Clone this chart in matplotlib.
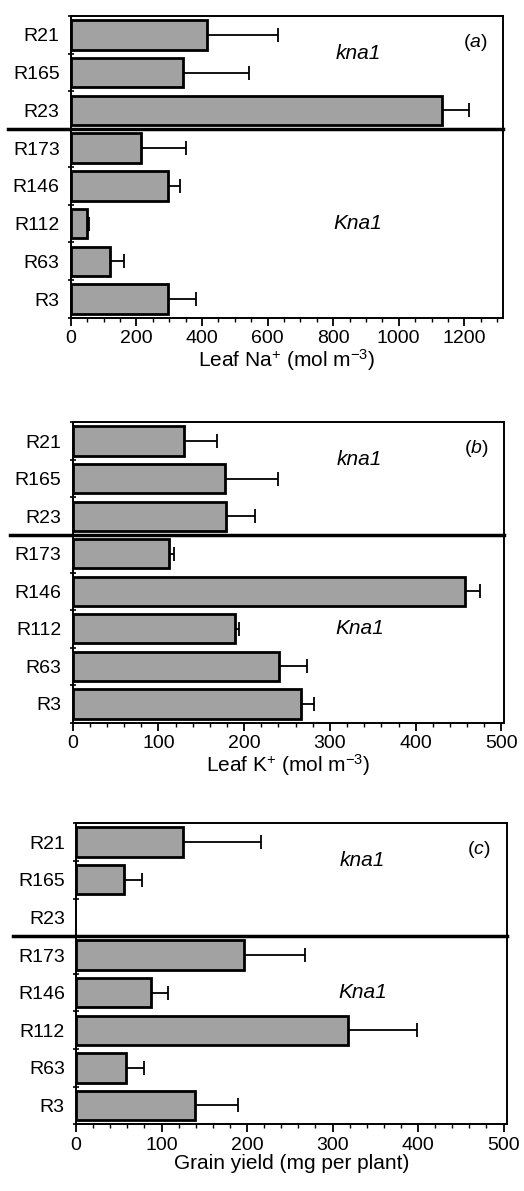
import numpy as np
import matplotlib
matplotlib.use('Agg')
import matplotlib.pyplot as plt
import matplotlib.transforms as mtrans
from matplotlib.ticker import MultipleLocator, FixedLocator

plt.rcParams['font.family'] = ['Liberation Sans', 'DejaVu Sans']
plt.rcParams['mathtext.fontset'] = 'custom'
plt.rcParams['mathtext.rm'] = 'Liberation Sans'
plt.rcParams['mathtext.it'] = 'Liberation Sans:italic'

# Data ------------------------------------------------------------------------
lines = ['R21', 'R165', 'R23', 'R173', 'R146', 'R112', 'R63', 'R3']

na_mean = [416, 343, 1131, 213, 296, 51, 120, 298]
na_se = [215, 200, 84, 138, 37, 4, 43, 83]

k_mean = [130, 178, 179, 112, 457, 189, 241, 266]
k_se = [38, 62, 34, 6, 18, 5, 32, 16]

yield_mean = [125, 56, 0, 197, 88, 318, 58, 139]  # R23 gave no grain
yield_se = [91, 21, 0, 71, 20, 81, 21, 51]

# Panel settings --------------------------------------------------------------
panels = [
    dict(mean=na_mean, se=na_se, tag='a', xmax=1318, major=200, minor=50, krow=5.0,
         xlabel='Leaf Na$^{+}$ (mol m$^{-3}$)', rect=[0.135, 0.733, 0.825, 0.2536]),
    dict(mean=k_mean, se=k_se, tag='b', xmax=503, major=100, minor=20, krow=5.0,
         xlabel='Leaf K$^{+}$ (mol m$^{-3}$)', rect=[0.1387, 0.3932, 0.8231, 0.2522]),
    dict(mean=yield_mean, se=yield_se, tag='c', xmax=504, major=100, minor=20, krow=4.0,
         xlabel='Grain yield (mg per plant)', rect=[0.145, 0.056, 0.8226, 0.2527]),
]

fig = plt.figure(figsize=(5.24, 11.91), dpi=100)

for p in panels:
    ax = fig.add_axes(p['rect'])
    mean = np.array(p['mean'], dtype=float)
    se = np.array(p['se'], dtype=float)
    ypos = np.arange(len(lines))
    keep = mean > 0

    ax.barh(ypos[keep], mean[keep], height=0.78, color='#a2a2a2',
            edgecolor='black', linewidth=2, zorder=2)
    ax.errorbar(mean[keep], ypos[keep], xerr=[np.zeros(keep.sum()), se[keep]],
                fmt='none', ecolor='black', elinewidth=1.3, capsize=5,
                capthick=1.3, zorder=1)

    ax.set_xlim(0, p['xmax'])
    ax.set_ylim(len(lines) - 0.5, -0.5)

    ax.set_yticks(ypos)
    ax.set_yticklabels(lines, fontsize=14)
    ax.yaxis.set_minor_locator(FixedLocator(np.arange(-0.5, len(lines), 1.0)))
    ax.tick_params(axis='y', which='major', length=0, pad=8)
    ax.tick_params(axis='y', which='minor', direction='inout', length=5, width=1.2)

    ax.xaxis.set_major_locator(MultipleLocator(p['major']))
    ax.xaxis.set_minor_locator(MultipleLocator(p['minor']))
    ax.tick_params(axis='x', which='major', direction='out', length=6, width=1.3,
                   labelsize=14, pad=3)
    ax.tick_params(axis='x', which='minor', direction='out', length=3, width=1.0)
    ax.set_xlabel(p['xlabel'], fontsize=15, labelpad=0)

    for s in ax.spines.values():
        s.set_linewidth(1.4)

    # kna1 / Kna1 divider, runs out past the left spine
    trans = mtrans.blended_transform_factory(ax.transAxes, ax.transData)
    ax.plot([-0.145, 1.0], [2.5, 2.5], color='black', linewidth=2.5,
            transform=trans, clip_on=False, zorder=3)

    ax.text(0.665, 0.5, 'kna1', transform=trans, fontsize=15, style='italic',
            ha='center', va='center')
    ax.text(0.665, p['krow'], 'Kna1', transform=trans, fontsize=15, style='italic',
            ha='center', va='center')
    ax.text(0.935, 0.2, '($\\it{' + p['tag'] + '}$)', transform=trans,
            fontsize=14, ha='center', va='center')

fig.savefig('out.png', dpi=100)
